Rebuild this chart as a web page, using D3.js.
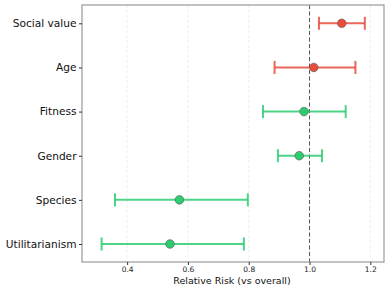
<!DOCTYPE html>
<html><head><meta charset="utf-8">
<script src="https://cdn.jsdelivr.net/npm/d3@7"></script>
<style>body{margin:0;background:#fff}svg{display:block}text{font-family:"DejaVu Sans",sans-serif}</style>
</head><body><svg id="c" width="389" height="291"></svg>
<script>
const categories = ["Social value","Age","Fitness","Gender","Species","Utilitarianism"];
const estimates = [1.106, 1.014, 0.982, 0.966, 0.572, 0.541];
const lower = [1.031, 0.885, 0.847, 0.896, 0.360, 0.316];
const upper = [1.182, 1.151, 1.119, 1.041, 0.797, 0.784];
const groups = ["up","up","down","down","down","down"];
const xTicks = [0.4, 0.6, 0.8, 1.0, 1.2];
const xLabel = "Relative Risk (vs overall)";
const colors = {up:"#e74c3c", down:"#2ecc71"};

const svg = d3.select("#c");
const m = {l:82, r:5, t:5, b:29};
const W = 389, H = 291;
const x = d3.scaleLinear().domain([0.2515, 1.245]).range([m.l, W - m.r]);
const y = d3.scalePoint().domain(categories).range([23.3, 244]);

// grid
svg.append("g").selectAll("line").data(xTicks).join("line")
  .attr("x1", d => x(d)).attr("x2", d => x(d)).attr("y1", m.t).attr("y2", H - m.b)
  .attr("stroke", "#ebebeb").attr("stroke-width", 0.8).attr("stroke-dasharray", "3,2");

// reference line
svg.append("line").attr("x1", x(1)).attr("x2", x(1)).attr("y1", m.t).attr("y2", H - m.b)
  .attr("stroke", "#555").attr("stroke-width", 1).attr("stroke-dasharray", "4,2.5");

const rows = categories.map((c, i) => ({c, e: estimates[i], lo: lower[i], hi: upper[i], g: groups[i]}));
const g = svg.append("g");
const cap = 6.5;
rows.forEach(r => {
  const col = colors[r.g];
  const yy = y(r.c);
  g.append("line").attr("x1", x(r.lo)).attr("x2", x(r.hi)).attr("y1", yy).attr("y2", yy)
    .attr("stroke", col).attr("stroke-width", 2).attr("stroke-opacity", 0.85);
  [r.lo, r.hi].forEach(v => g.append("line").attr("x1", x(v)).attr("x2", x(v))
    .attr("y1", yy - cap).attr("y2", yy + cap).attr("stroke", col).attr("stroke-width", 2).attr("stroke-opacity", 0.85));
  g.append("circle").attr("cx", x(r.e)).attr("cy", yy).attr("r", 4.3)
    .attr("fill", col).attr("stroke", "#555").attr("stroke-width", 0.6);
});

// frame
svg.append("rect").attr("x", m.l).attr("y", m.t).attr("width", W - m.r - m.l).attr("height", H - m.b - m.t)
  .attr("fill", "none").attr("stroke", "#999").attr("stroke-width", 1.2);

// axes
const xa = svg.append("g").attr("transform", `translate(0,${H - m.b})`)
  .call(d3.axisBottom(x).tickValues(xTicks).tickFormat(d3.format(".1f")).tickSize(3).tickPadding(1.5));
xa.select(".domain").remove();
xa.selectAll("line").attr("stroke", "#333");
xa.selectAll("text").attr("font-size", 7.5).attr("fill", "#222").attr("font-family", "DejaVu Sans");

const ya = svg.append("g").attr("transform", `translate(${m.l},0)`)
  .call(d3.axisLeft(y).tickSize(3).tickPadding(2.5));
ya.select(".domain").remove();
ya.selectAll("line").attr("stroke", "#333");
ya.selectAll("text").attr("font-size", 10.6).attr("fill", "#111").attr("font-family", "DejaVu Sans");

svg.append("text").attr("x", 232).attr("y", 284).attr("text-anchor", "middle")
  .attr("font-size", 9.5).attr("fill", "#111").text(xLabel);
</script></body></html>
